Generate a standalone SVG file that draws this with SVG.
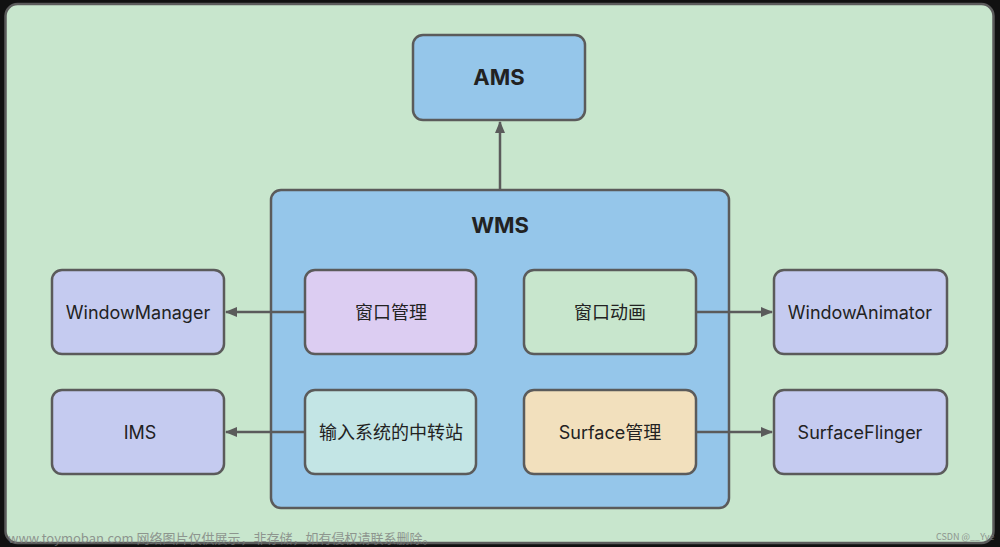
<svg xmlns="http://www.w3.org/2000/svg" width="1000" height="547" viewBox="0 0 1000 547">
<defs>
<style>
.n{stroke:#5b5b5b;stroke-width:2.5}
.t{font-family:Inter,"Noto Sans CJK SC",sans-serif;font-size:18px;fill:#222;text-anchor:middle;dominant-baseline:central}
.b{font-size:22px;font-weight:700}
.c{stroke:#5b5b5b;stroke-width:2.5;fill:none;marker-end:url(#ah)}
.w{font-family:"Noto Sans CJK SC",sans-serif;fill:#7a7a7a;opacity:0.75}
</style>
<marker id="ah" viewBox="0 0 12 10" refX="11" refY="5" markerWidth="12" markerHeight="10" markerUnits="userSpaceOnUse" orient="auto">
<path d="M0,0 L12,5 L0,10 Z" fill="#5b5b5b"/>
</marker>
</defs>
<rect x="0" y="0" width="1000" height="547" fill="#111"/>
<rect x="5.5" y="4" width="988" height="539" rx="12" fill="#c8e6cd" stroke="#5b5b5b" stroke-width="2.5"/>
<g id="WMS"><rect class="n" x="271" y="190" width="458" height="318" rx="10" fill="#95c6ea"/><text class="t b" x="500" y="225">WMS</text></g>
<g id="AMS"><rect class="n" x="413" y="35" width="172" height="85" rx="10" fill="#95c6ea"/><text class="t b" x="499" y="77">AMS</text></g>
<g id="winmgmt"><rect class="n" x="305" y="270" width="171" height="84" rx="10" fill="#dccdf2"/><text class="t" x="391" y="312">窗口管理</text></g>
<g id="winanim"><rect class="n" x="524" y="270" width="172" height="84" rx="10" fill="#c8e6cd"/><text class="t" x="610" y="312">窗口动画</text></g>
<g id="relay"><rect class="n" x="305" y="390" width="171" height="84" rx="10" fill="#c3e5e5"/><text class="t" x="391" y="432">输入系统的中转站</text></g>
<g id="surfmgmt"><rect class="n" x="524" y="390" width="172" height="84" rx="10" fill="#f2e0bd"/><text class="t" x="610" y="432">Surface管理</text></g>
<g id="WindowManager"><rect class="n" x="52" y="270" width="172" height="84" rx="10" fill="#c5cbf0"/><text class="t" x="138" y="312">WindowManager</text></g>
<g id="IMS"><rect class="n" x="52" y="390" width="172" height="84" rx="10" fill="#c5cbf0"/><text class="t" x="140" y="432">IMS</text></g>
<g id="WindowAnimator"><rect class="n" x="774" y="270" width="173" height="84" rx="10" fill="#c5cbf0"/><text class="t" x="860" y="312">WindowAnimator</text></g>
<g id="SurfaceFlinger"><rect class="n" x="774" y="390" width="173" height="84" rx="10" fill="#c5cbf0"/><text class="t" x="860" y="432">SurfaceFlinger</text></g>
<g id="connectors">
<path class="c" d="M500,190 L500,122"/>
<path class="c" d="M305,312 L226,312"/>
<path class="c" d="M305,432 L226,432"/>
<path class="c" d="M696,312 L772,312"/>
<path class="c" d="M696,432 L772,432"/>
</g>
<text class="w" x="8" y="543" font-size="13">www.toymoban.com 网络图片仅供展示，非存储，如有侵权请联系删除。</text>
<text class="w" x="936" y="540" font-size="9">CSDN @__Yve</text>
</svg>
